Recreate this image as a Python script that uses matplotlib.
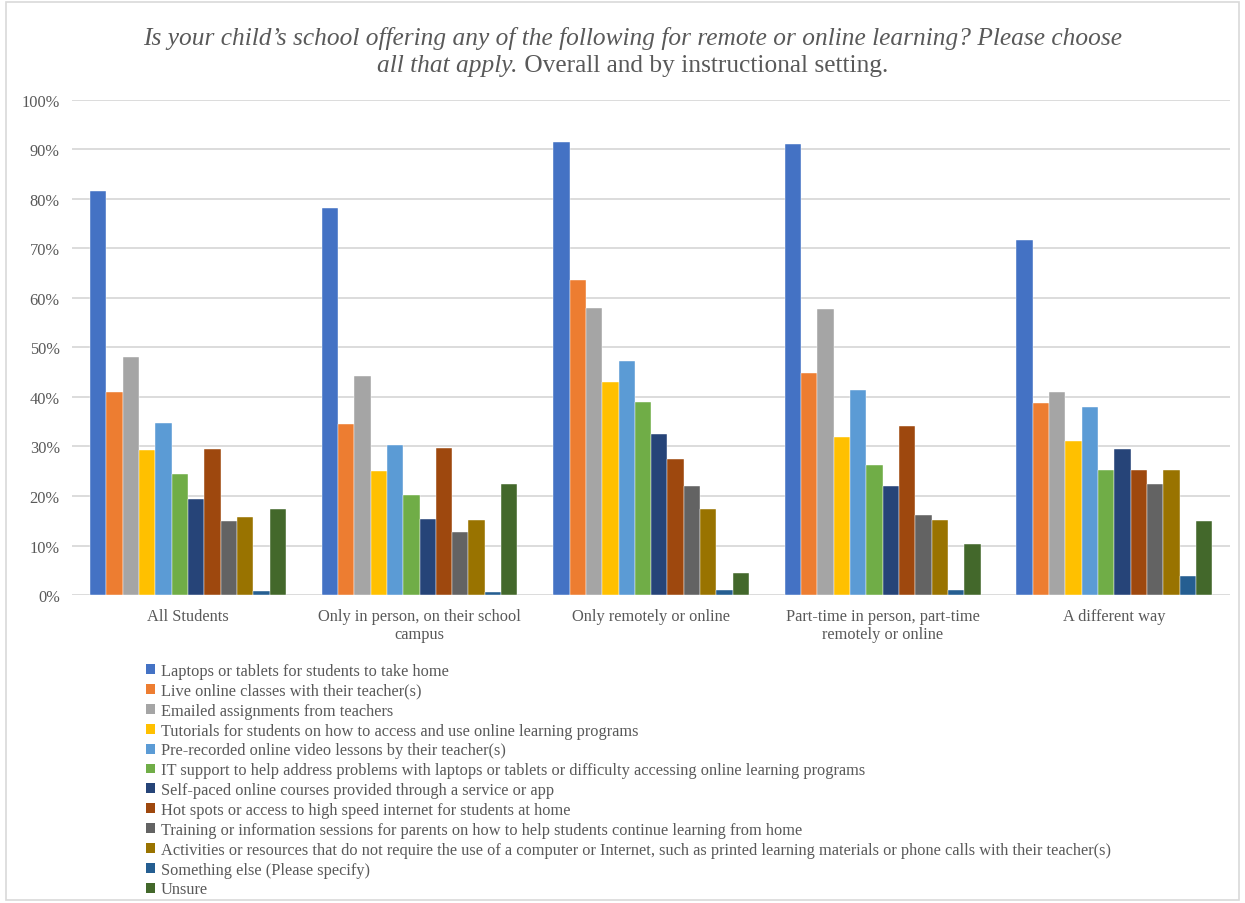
import numpy as np
import matplotlib.pyplot as plt
from matplotlib.patches import Patch, Rectangle

plt.rcParams['font.family'] = ['Liberation Serif', 'DejaVu Serif']

categories = ["All Students", "Only in person, on their school\ncampus",
              "Only remotely or online", "Part-time in person, part-time\nremotely or online",
              "A different way"]

series_names = [
    "Laptops or tablets for students to take home",
    "Live online classes with their teacher(s)",
    "Emailed assignments from teachers",
    "Tutorials for students on how to access and use online learning programs",
    "Pre-recorded online video lessons by their teacher(s)",
    "IT support to help address problems with laptops or tablets or difficulty accessing online learning programs",
    "Self-paced online courses provided through a service or app",
    "Hot spots or access to high speed internet for students at home",
    "Training or information sessions for parents on how to help students continue learning from home",
    "Activities or resources that do not require the use of a computer or Internet, such as printed learning materials or phone calls with their teacher(s)",
    "Something else (Please specify)",
    "Unsure",
]

# values in %, one list per series, ordered as categories
laptops   = [81.7, 78.2, 91.6, 91.2, 71.7]
live      = [41.0, 34.5, 63.6, 44.8, 38.8]
emailed   = [48.0, 44.3, 57.9, 57.7, 41.0]
tutorials = [29.2, 25.1, 43.0, 31.9, 31.2]
prerec    = [34.7, 30.3, 47.3, 41.5, 38.0]
it_supp   = [24.4, 20.2, 38.9, 26.2, 25.3]
selfpace  = [19.4, 15.4, 32.5, 22.0, 29.4]
hotspots  = [29.5, 29.7, 27.5, 34.1, 25.3]
training  = [15.0, 12.8, 22.0, 16.1, 22.4]
offline   = [15.7, 15.2, 17.4, 15.1, 25.3]
other     = [0.9, 0.7, 1.0, 1.0, 3.9]
unsure    = [17.4, 22.4, 4.5, 10.4, 15.0]

values = [laptops, live, emailed, tutorials, prerec, it_supp,
          selfpace, hotspots, training, offline, other, unsure]

colors = ["#4472C4", "#ED7D31", "#A5A5A5", "#FFC000", "#5B9BD5", "#70AD47",
          "#264478", "#9E480E", "#636363", "#997300", "#255E91", "#43682B"]

txt = "#595959"

fig = plt.figure(figsize=(12.45, 9.04), dpi=100)
ax = fig.add_axes([0.058, 0.3407, 0.93, 0.5476])

n = len(values)
group_w = 0.845
bw = group_w / n
x = np.arange(len(categories))
for i, (vals, c) in enumerate(zip(values, colors)):
    ax.bar(x - group_w / 2 + bw * (i + 0.5), np.array(vals) / 100, bw,
           color=c, zorder=3, edgecolor="white", linewidth=0.3)

ax.set_xlim(-0.5, len(categories) - 0.5)
ax.set_ylim(0, 1.0)
ax.set_yticks(np.arange(0, 1.01, 0.1))
ax.set_yticklabels([f"{int(round(v * 100))}%" for v in np.arange(0, 1.01, 0.1)])
ax.set_xticks(x)
ax.set_xticklabels(categories, linespacing=1.2)
ax.tick_params(axis="both", length=0, colors=txt, labelsize=11.8)
ax.tick_params(axis="y", pad=9)
ax.tick_params(axis="x", pad=9)
ax.grid(axis="y", color="#D9D9D9", linewidth=1.3, zorder=0)
for s in ax.spines.values():
    s.set_visible(False)

# title: italic question, upright subtitle on second line
fs = 18.3
cx = 0.508
fig.text(cx, 1 - 38 / 904, "Is your child\u2019s school offering any of the following for remote or online learning? Please choose",
         ha="center", va="center", fontsize=fs, style="italic", color=txt)
r = fig.canvas.get_renderer()
p1 = fig.text(0, 0, "all that apply.", fontsize=fs, style="italic")
p2 = fig.text(0, 0, " Overall and by instructional setting.", fontsize=fs)
w1 = p1.get_window_extent(r).width / fig.bbox.width
w2 = p2.get_window_extent(r).width / fig.bbox.width
p1.remove()
p2.remove()
left = cx - (w1 + w2) / 2
y2 = 1 - 66 / 904
fig.text(left, y2, "all that apply.", ha="left", va="center", fontsize=fs, style="italic", color=txt)
fig.text(left + w1, y2, " Overall and by instructional setting.", ha="left", va="center", fontsize=fs, color=txt)

handles = [Patch(facecolor=c, edgecolor="none") for c in colors]
leg = fig.legend(handles, series_names, loc="upper left", bbox_to_anchor=(146 / 1245, 1 - 664 / 904),
                 frameon=False, fontsize=11.8, handlelength=0.55, handleheight=0.55,
                 handletextpad=0.35, labelspacing=0.235, borderaxespad=0, borderpad=0)
for t in leg.get_texts():
    t.set_color(txt)

fig.patches.append(Rectangle((0.005, 0.003), 0.99, 0.994, transform=fig.transFigure,
                             fill=False, edgecolor="#D9D9D9", linewidth=1.2))

fig.savefig("out.png", dpi=100)
